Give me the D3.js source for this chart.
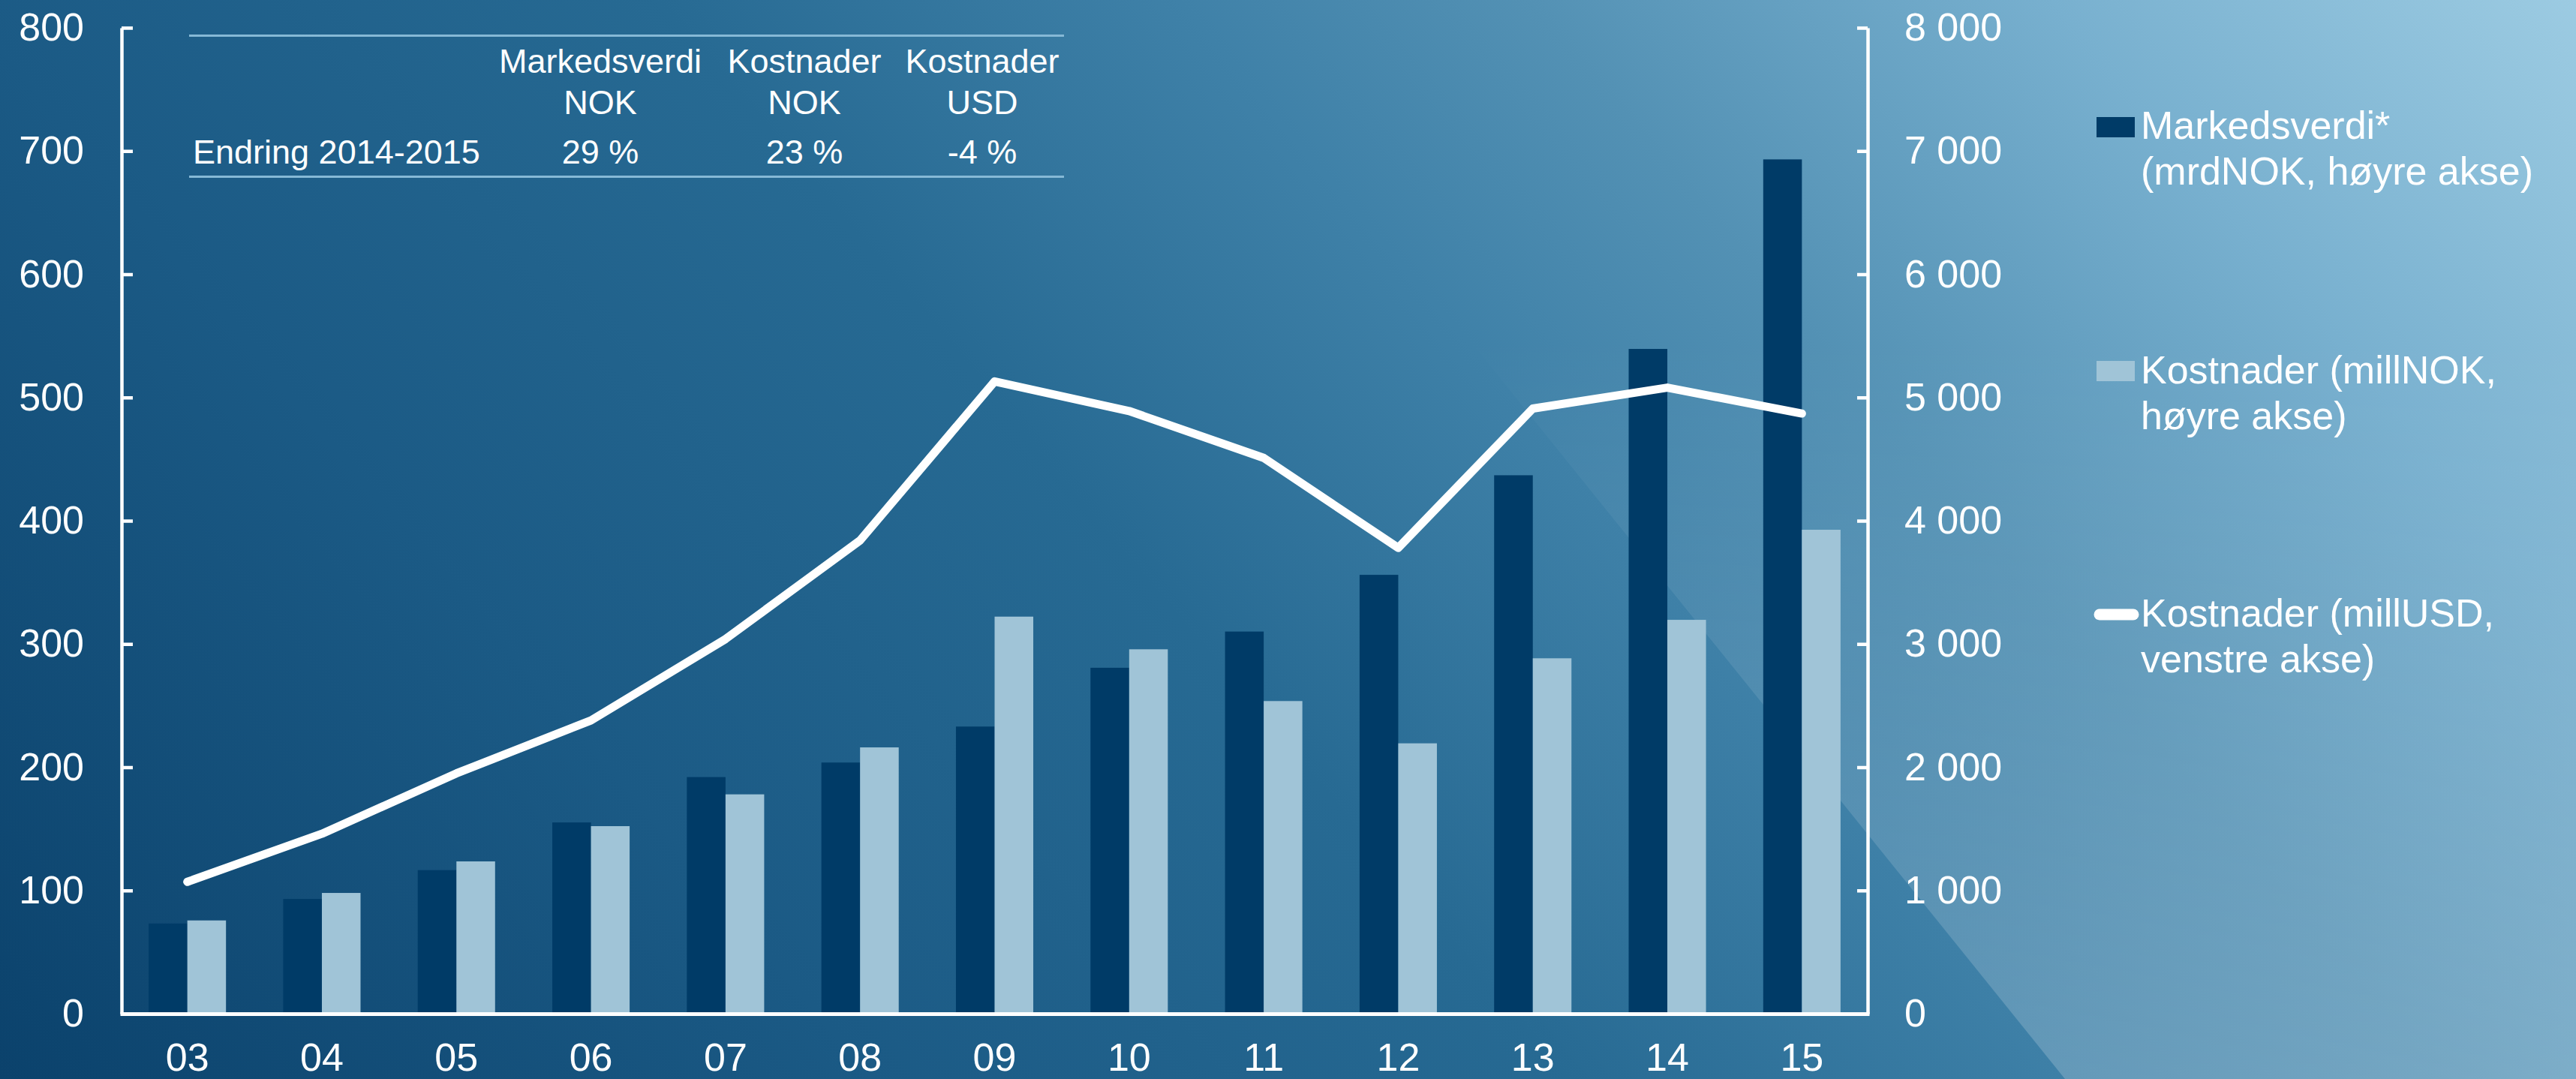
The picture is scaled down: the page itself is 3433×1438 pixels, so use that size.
<!DOCTYPE html>
<html>
<head>
<meta charset="utf-8">
<script src="https://cdn.jsdelivr.net/npm/d3@7"></script>
<style>
  html, body { margin: 0; padding: 0; overflow: hidden; background: #1d5f8a; }
  svg { display: block; }
  text { font-family: "Liberation Sans", Arial, sans-serif; fill: #ffffff; }
</style>
</head>
<body>
<svg id="chart" width="3433" height="1438"></svg>
<script>
// ---- Data ----
const categories = ["03","04","05","06","07","08","09","10","11","12","13","14","15"];
const markedsverdi = [732, 931, 1165, 1552, 1920, 2038, 2330, 2807, 3101, 3561, 4369, 5394, 6932]; // mrdNOK, right axis
const kostnaderNOK = [757, 980, 1236, 1522, 1780, 2161, 3222, 2957, 2537, 2194, 2884, 3196, 3927]; // millNOK, right axis
const kostnaderUSD = [107, 146, 195, 238, 304, 384, 513, 489, 451, 378, 491, 508, 487];            // millUSD, left axis
const leftTicks = [0, 100, 200, 300, 400, 500, 600, 700, 800];
const rightTicks = [0, 1000, 2000, 3000, 4000, 5000, 6000, 7000, 8000];

const tableHeaders = [["Markedsverdi", "NOK"], ["Kostnader", "NOK"], ["Kostnader", "USD"]];
const tableRowLabel = "Endring 2014-2015";
const tableValues = ["29 %", "23 %", "-4 %"];

const legendLabels = [
  ["Markedsverdi*", "(mrdNOK, høyre akse)"],
  ["Kostnader (millNOK,", "høyre akse)"],
  ["Kostnader (millUSD,", "venstre akse)"]
];

const colDark = "#003b67";
const colLight = "#a0c4d7";

// ---- Setup ----
const W = 3433, H = 1438;
const svg = d3.select("#chart");
const defs = svg.append("defs");

const bg = defs.append("linearGradient").attr("id", "bg")
  .attr("gradientUnits", "userSpaceOnUse")
  .attr("x1", 0).attr("y1", 1438).attr("x2", 2707).attr("y2", -854);
[[0, "#0b426c"], [0.25, "#1b5a85"], [0.45, "#276a93"], [0.6, "#3f81a8"],
 [0.7, "#5391b4"], [0.85, "#78b0cf"], [1, "#9ccbe2"]].forEach(([o, c]) =>
  bg.append("stop").attr("offset", o).attr("stop-color", c));

const ov = defs.append("linearGradient").attr("id", "ov")
  .attr("gradientUnits", "userSpaceOnUse")
  .attr("x1", 0).attr("y1", 450).attr("x2", 0).attr("y2", 1438);
ov.append("stop").attr("offset", 0).attr("stop-color", "#ffffff").attr("stop-opacity", 0);
ov.append("stop").attr("offset", 1).attr("stop-color", "#ffffff").attr("stop-opacity", 0.2);

svg.append("rect").attr("width", W).attr("height", H).attr("fill", "url(#bg)");
svg.append("path")
  .attr("d", "M1593,0 L3433,0 L3433,1438 L2752,1438 Z")
  .attr("fill", "url(#ov)");

// ---- Scales ----
const plotL = 160, plotR = 2491, yTop = 37, yBot = 1351;
const x = d3.scaleBand().domain(categories).range([plotL, plotR]).paddingInner(0).paddingOuter(0);
const sub = d3.scaleBand().domain(["mv", "kn"]).range([0, x.bandwidth()]).paddingInner(0).paddingOuter(0.74);
const yL = d3.scaleLinear().domain([0, 800]).range([yBot, yTop]);
const yR = d3.scaleLinear().domain([0, 8000]).range([yBot, yTop]);

const nbLocale = d3.formatLocale({ decimal: ",", thousands: " ", grouping: [3], currency: ["", ""] });
const fmtR = nbLocale.format(",d");

// ---- Bars ----
const barG = svg.append("g");
categories.forEach((c, i) => {
  barG.append("rect")
    .attr("x", x(c) + sub("mv")).attr("width", sub.bandwidth())
    .attr("y", yR(markedsverdi[i])).attr("height", yR(0) - yR(markedsverdi[i]))
    .attr("fill", colDark);
  barG.append("rect")
    .attr("x", x(c) + sub("kn")).attr("width", sub.bandwidth())
    .attr("y", yR(kostnaderNOK[i])).attr("height", yR(0) - yR(kostnaderNOK[i]))
    .attr("fill", colLight);
});

// ---- Line ----
const line = d3.line()
  .x((d, i) => x(categories[i]) + x.bandwidth() / 2)
  .y(d => yL(d));
svg.append("path").datum(kostnaderUSD)
  .attr("d", line)
  .attr("fill", "none").attr("stroke", "#ffffff").attr("stroke-width", 11)
  .attr("stroke-linecap", "round").attr("stroke-linejoin", "round");

// ---- Axes ----
function styleAxis(g, w) {
  g.attr("font-size", 52).attr("font-family", "Liberation Sans, Arial, sans-serif");
  g.selectAll("path.domain").attr("stroke", "#ffffff").attr("stroke-width", w);
  g.selectAll(".tick line").attr("stroke", "#ffffff").attr("stroke-width", w);
  g.selectAll(".tick text").attr("fill", "#ffffff");
}

const axL = svg.append("g").attr("transform", `translate(${plotL + 2},0)`)
  .call(d3.axisLeft(yL).tickValues(leftTicks).tickSize(-15).tickSizeOuter(0).tickPadding(50).tickFormat(d3.format("d")));
styleAxis(axL, 4.5);

const axR = svg.append("g").attr("transform", `translate(${plotR - 2},0)`)
  .call(d3.axisRight(yR).tickValues(rightTicks).tickSize(-14).tickSizeOuter(0).tickPadding(49).tickFormat(fmtR));
styleAxis(axR, 4.5);

const axB = svg.append("g").attr("transform", `translate(0,${yBot})`)
  .call(d3.axisBottom(x).tickSize(0).tickSizeOuter(0).tickPadding(39));
styleAxis(axB, 5);

// ---- Table ----
const tbl = svg.append("g");
const colCenters = [800, 1072, 1309];
tbl.append("line").attr("x1", 252).attr("x2", 1418).attr("y1", 47.5).attr("y2", 47.5)
  .attr("stroke", "#86b9d6").attr("stroke-width", 3);
tbl.append("line").attr("x1", 252).attr("x2", 1418).attr("y1", 235.5).attr("y2", 235.5)
  .attr("stroke", "#86b9d6").attr("stroke-width", 3);
tableHeaders.forEach((h, i) => {
  tbl.append("text").attr("x", colCenters[i]).attr("y", 97).attr("text-anchor", "middle")
    .attr("font-size", 45).text(h[0]);
  tbl.append("text").attr("x", colCenters[i]).attr("y", 152).attr("text-anchor", "middle")
    .attr("font-size", 45).text(h[1]);
  tbl.append("text").attr("x", colCenters[i]).attr("y", 218).attr("text-anchor", "middle")
    .attr("font-size", 45).text(tableValues[i]);
});
tbl.append("text").attr("x", 257).attr("y", 218).attr("font-size", 45).text(tableRowLabel);

// ---- Legend ----
const lg = svg.append("g");
const lgX = 2853;
lg.append("rect").attr("x", 2794).attr("y", 156).attr("width", 51).attr("height", 27).attr("fill", colDark);
lg.append("rect").attr("x", 2794).attr("y", 481).attr("width", 51).attr("height", 27).attr("fill", colLight);
lg.append("line").attr("x1", 2798).attr("x2", 2843).attr("y1", 819).attr("y2", 819)
  .attr("stroke", "#ffffff").attr("stroke-width", 15).attr("stroke-linecap", "round");
const lgBase = [185, 511, 835];
legendLabels.forEach((lab, i) => {
  lab.forEach((t, j) => {
    lg.append("text").attr("x", lgX).attr("y", lgBase[i] + j * 61).attr("font-size", 52).text(t);
  });
});
</script>
</body>
</html>
